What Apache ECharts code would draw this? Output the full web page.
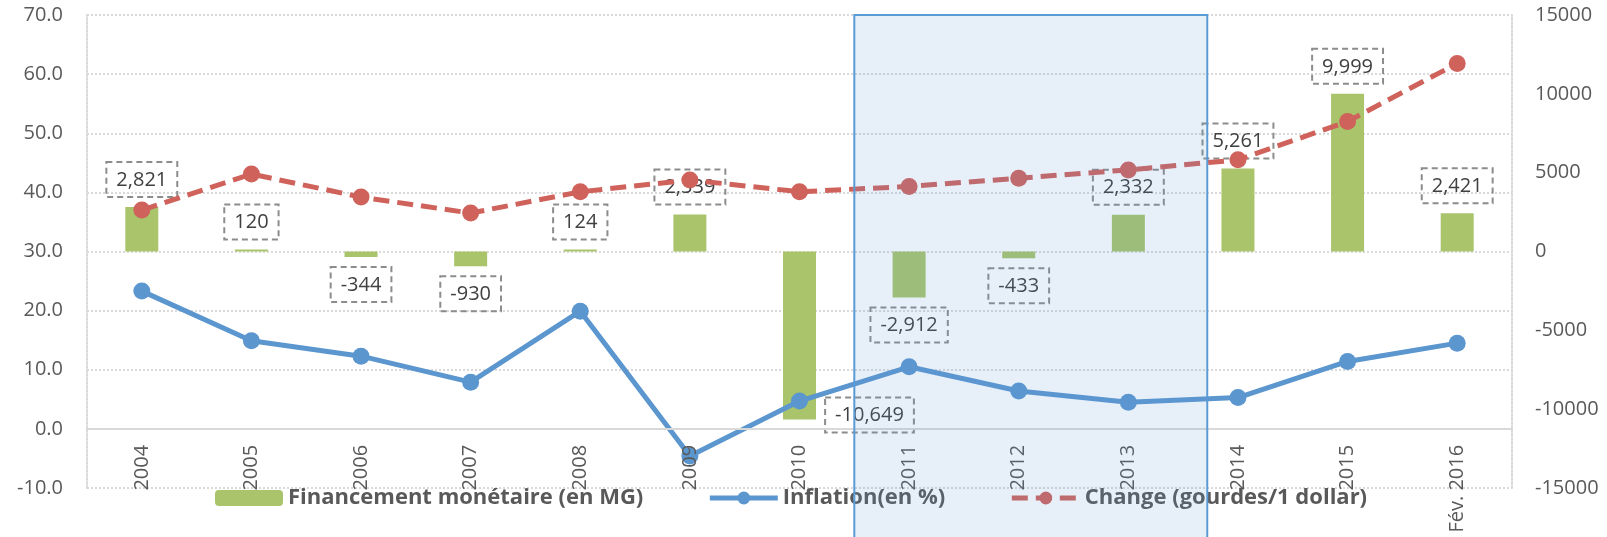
<!DOCTYPE html>
<html>
<head>
<meta charset="utf-8">
<script src="https://cdn.jsdelivr.net/npm/echarts@6/dist/echarts.min.js"></script>
<style>
  html, body { margin: 0; padding: 0; background: #ffffff; }
  #chart { width: 1607px; height: 537px; }
</style>
</head>
<body>
<div id="chart"></div>
<script>
// Categories and series
const years = ['2004', '2005', '2006', '2007', '2008', '2009', '2010', '2011', '2012', '2013', '2014', '2015', 'Fév. 2016'];
const financement = [2821, 120, -344, -930, 124, 2339, -10649, -2912, -433, 2332, 5261, 9999, 2421];
const inflation = [23.3, 14.9, 12.3, 7.9, 19.9, -4.6, 4.7, 10.5, 6.4, 4.5, 5.3, 11.4, 14.5];
const change = [37.0, 43.1, 39.2, 36.5, 40.1, 42.1, 40.1, 41.0, 42.4, 43.8, 45.5, 52.0, 61.8];

// Series names
const nameFin = 'Financement monétaire (en MG)';
const nameInf = 'Inflation(en %)';
const nameChg = 'Change (gourdes/1 dollar)';

// Highlighted period: from between 2010 and 2011 to late 2013
const periodStart = 6.5;
const periodEnd = 9.72;

const FONT = "'Open Sans', 'Noto Sans', sans-serif";
const GREY = '#595959';
const BLUE = '#5b96cf';
const RED = '#d0625c';

const chart = echarts.init(document.getElementById('chart'), null, { renderer: 'canvas' });

const fmt = v => v.toLocaleString('en-US');

// Value labels: boxed with a dashed grey frame, above positive bars, below negative ones
const barData = financement.map(v => {
  const label = { position: v >= 0 ? 'top' : 'bottom' };
  if (v < -5000) {
    // the deep negative bar carries its label beside its end
    label.offset = [70, -32];
  }
  return { value: v, label };
});

const option = {
  animation: false,
  textStyle: { fontFamily: FONT },
  grid: { left: 87, right: 95, top: 15, bottom: 49, containLabel: false, outerBoundsMode: 'none' },
  legend: {
    left: 210,
    top: 482,
    itemWidth: 68,
    itemHeight: 16,
    itemGap: 64,
    lineStyle: { width: 5 },
    textStyle: { fontFamily: FONT, fontSize: 22, fontWeight: 'bold', color: GREY },
    data: [nameFin, nameInf, nameChg]
  },
  xAxis: {
    type: 'category',
    data: years,
    boundaryGap: true,
    position: 'bottom',
    z: 10,
    axisLine: { onZero: false, lineStyle: { color: '#d9d9d9', width: 2 } },
    axisTick: { show: false },
    axisLabel: { rotate: 90, margin: 16, color: GREY, fontSize: 20, fontFamily: FONT, interval: 0 },
    splitLine: { show: false }
  },
  yAxis: [
    {
      type: 'value',
      position: 'left',
      min: -10,
      max: 70,
      interval: 10,
      axisLine: { show: true, onZero: false, lineStyle: { color: '#d9d9d9', type: 'dotted', width: 2 } },
      axisTick: { show: false },
      axisLabel: { margin: 24, color: GREY, fontSize: 20, fontFamily: FONT, formatter: v => v.toFixed(1) },
      splitLine: { show: true, lineStyle: { color: '#d9d9d9', type: 'dotted', width: 2 } }
    },
    {
      type: 'value',
      position: 'right',
      min: -15000,
      max: 15000,
      interval: 5000,
      axisLine: { show: true, onZero: false, lineStyle: { color: '#d9d9d9', type: 'dotted', width: 2 } },
      axisTick: { show: false },
      axisLabel: { margin: 23, color: GREY, fontSize: 20, fontFamily: FONT, formatter: v => String(v) },
      splitLine: { show: false }
    }
  ],
  series: [
    {
      name: nameFin,
      type: 'bar',
      yAxisIndex: 1,
      barWidth: 33,
      itemStyle: { color: '#a9c46b' },
      label: {
        show: true,
        distance: 10,
        color: '#404040',
        fontSize: 20,
        fontFamily: FONT,
        lineHeight: 22,
        padding: [7, 10, 6, 10],
        borderColor: '#8c8c8c',
        borderWidth: 2,
        borderType: [6, 4],
        formatter: p => fmt(p.value)
      },
      data: barData,
      z: 2
    },
    {
      name: nameInf,
      type: 'line',
      yAxisIndex: 0,
      data: inflation,
      symbol: 'circle',
      symbolSize: 17,
      lineStyle: { color: BLUE, width: 5 },
      itemStyle: { color: BLUE },
      z: 3
    },
    {
      name: nameChg,
      type: 'line',
      yAxisIndex: 0,
      data: change,
      symbol: 'circle',
      symbolSize: 17,
      lineStyle: { color: RED, width: 5, type: [16, 8] },
      itemStyle: { color: RED },
      z: 4
    }
  ]
};

chart.setOption(option);

// Category axis sits on the zero of the left scale
const zeroY = chart.convertToPixel({ yAxisIndex: 0 }, 0);
const floorY = chart.convertToPixel({ yAxisIndex: 0 }, -10);

// Translucent frame marking the highlighted period, laid over the plot
const xa = chart.convertToPixel({ xAxisIndex: 0 }, 0);
const xb = chart.convertToPixel({ xAxisIndex: 0 }, 1);
const step = xb - xa;
const frameLeft = xa + periodStart * step;
const frameRight = xa + periodEnd * step;
const frameTop = chart.convertToPixel({ yAxisIndex: 0 }, 70);

chart.setOption({
  xAxis: { offset: zeroY - floorY },
  graphic: [{
    type: 'rect',
    z: 100,
    silent: true,
    shape: { x: frameLeft, y: frameTop, width: frameRight - frameLeft, height: 560 - frameTop },
    style: { fill: 'rgba(91,155,213,0.15)', stroke: '#5b9bd5', lineWidth: 2 }
  }]
});
</script>
</body>
</html>
